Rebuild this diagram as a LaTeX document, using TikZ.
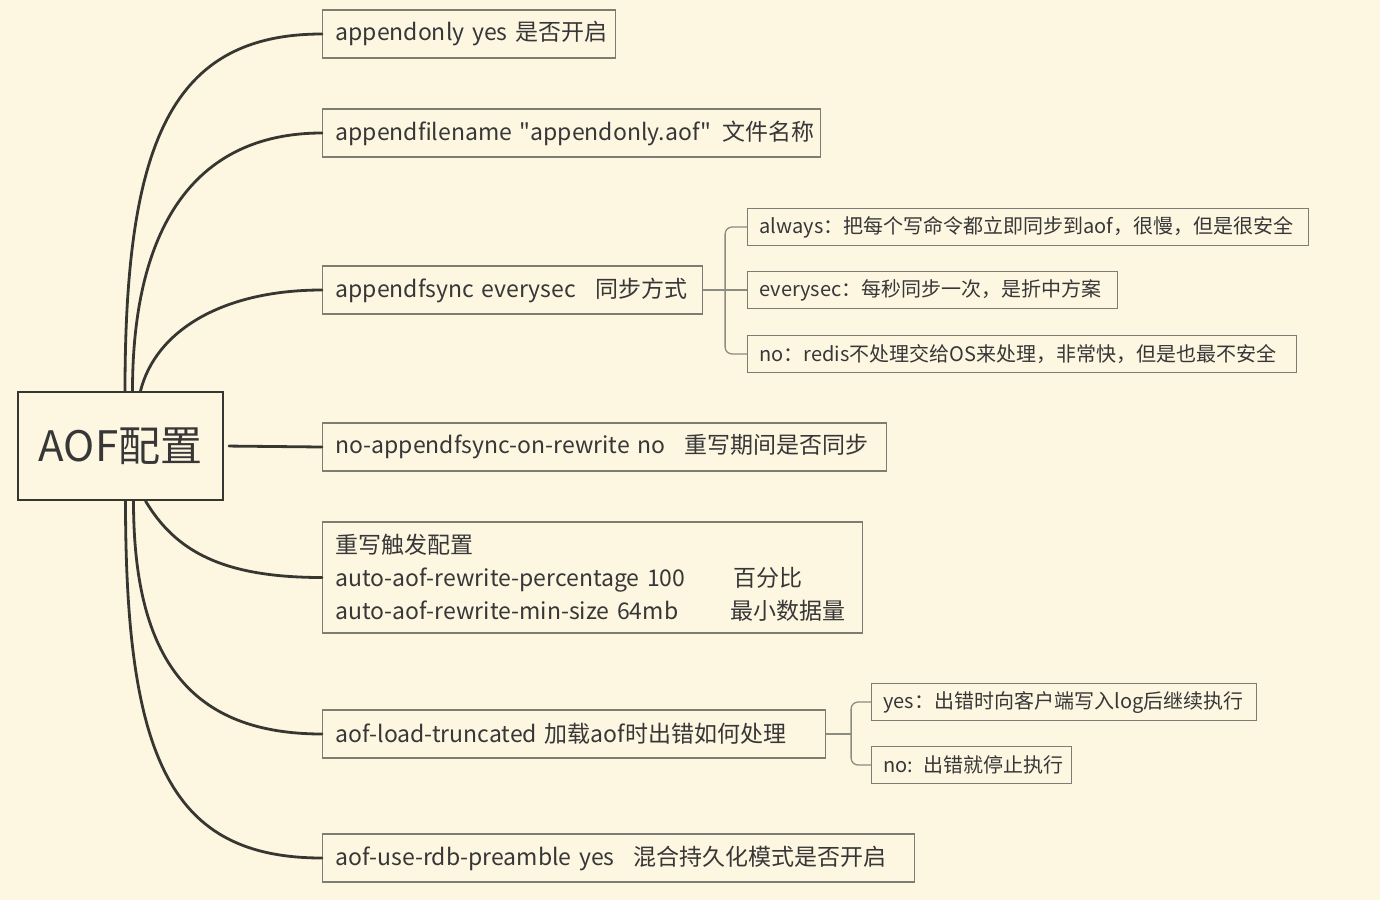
\documentclass[tikz,border=0pt]{standalone}
\usepackage{fontspec}
\setmainfont{Noto Sans CJK SC}[Ligatures=TeXOff]
\definecolor{bg}{RGB}{253,246,225}
\definecolor{txt}{RGB}{55,55,55}
\definecolor{boxc}{RGB}{125,125,115}
\definecolor{mainline}{RGB}{55,55,50}
\definecolor{subline}{RGB}{140,140,130}
\begin{document}
\begin{tikzpicture}[x=1pt,y=-1pt,
  box/.style={draw=boxc, line width=1.1pt, anchor=west, inner xsep=13pt, inner ysep=0pt,
    align=left, text=txt, font=\fontsize{23}{33}\selectfont, minimum height=48pt},
  small/.style={box, font=\fontsize{20}{26}\selectfont, minimum height=37pt, inner xsep=12pt},
  rootbox/.style={draw=mainline, line width=2pt, minimum width=205pt, minimum height=108pt,
    inner sep=0pt, text=txt, font=\fontsize{42}{50}\selectfont},
  mainconn/.style={draw=mainline, line width=2.8pt, line cap=round},
  subconn/.style={draw=subline, line width=1.3pt, rounded corners=7pt}]
\useasboundingbox (0,0) rectangle (1380,900);
\fill[bg] (0,0) rectangle (1380,900);

\node[rootbox] (root) at (120.5,446) {AOF配置};

\node[box, text width=267pt] (b1) at (322,34) {\mbox{appendonly yes 是否开启}};
\node[box, text width=472pt] (b2) at (322,133) {\mbox{appendfilename "appendonly.aof"\hspace{0.15em} 文件名称}};
\node[box, text width=354pt] (b3) at (322,290) {\mbox{appendfsync everysec\hspace{0.5em} 同步方式}};
\node[box, text width=538pt] (b4) at (322,447) {\mbox{no-appendfsync-on-rewrite no\hspace{0.5em} 重写期间是否同步}};
\node[box, text width=514pt, minimum height=111pt] (b5) at (322,577.5)
  {重写触发配置\\\makebox[398pt][l]{auto-aof-rewrite-percentage 100}百分比\\\makebox[395pt][l]{auto-aof-rewrite-min-size 64mb}最小数据量};
\node[box, text width=477pt] (b6) at (322,734) {\mbox{aof-load-truncated 加载aof时出错如何处理}};
\node[box, text width=566pt] (b7) at (322,858) {\mbox{aof-use-rdb-preamble yes\hspace{0.5em} 混合持久化模式是否开启}};

\node[small, text width=537pt] (c1) at (747,227) {\mbox{always：把每个写命令都立即同步到aof，很慢，但是很安全}};
\node[small, text width=346pt] (c2) at (747,290) {\mbox{everysec：每秒同步一次，是折中方案}};
\node[small, text width=525pt] (c3) at (747,354) {\mbox{no：redis不处理交给OS来处理，非常快，但是也最不安全}};

\node[small, text width=361pt] (d1) at (871,702) {\mbox{yes：出错时向客户端写入log后继续执行}};
\node[small, text width=176pt] (d2) at (871,765) {\mbox{no: 出错就停止执行}};

% main connectors
\draw[mainconn] ([xshift=4.5pt]root.north) .. controls +(0,-250) and +(-150,0) .. (b1.west);
\draw[mainconn] ([xshift=12pt]root.north) .. controls +(0,-160) and +(-130,0) .. (b2.west);
\draw[mainconn] ([xshift=20pt]root.north) .. controls +(15,-60) and +(-100,0) .. (b3.west);
\draw[mainconn, shorten <=5pt] (root.east) -- (b4.west);
\draw[mainconn] ([xshift=25pt]root.south) .. controls +(30,50) and +(-100,0) .. (b5.west);
\draw[mainconn] ([xshift=13pt]root.south) .. controls +(0,160) and +(-130,0) .. (b6.west);
\draw[mainconn] ([xshift=5pt]root.south) .. controls +(0,260) and +(-150,0) .. (b7.west);

% sub connectors
\draw[subconn] (c1.west) -| ([xshift=22pt]b3.east) |- (c3.west);
\draw[subconn] (b3.east) -- (c2.west);
\draw[subconn] (d1.west) -| ([xshift=25pt]b6.east) |- (d2.west);
\draw[subconn] (b6.east) -- ([xshift=25pt]b6.east);
\end{tikzpicture}
\end{document}
